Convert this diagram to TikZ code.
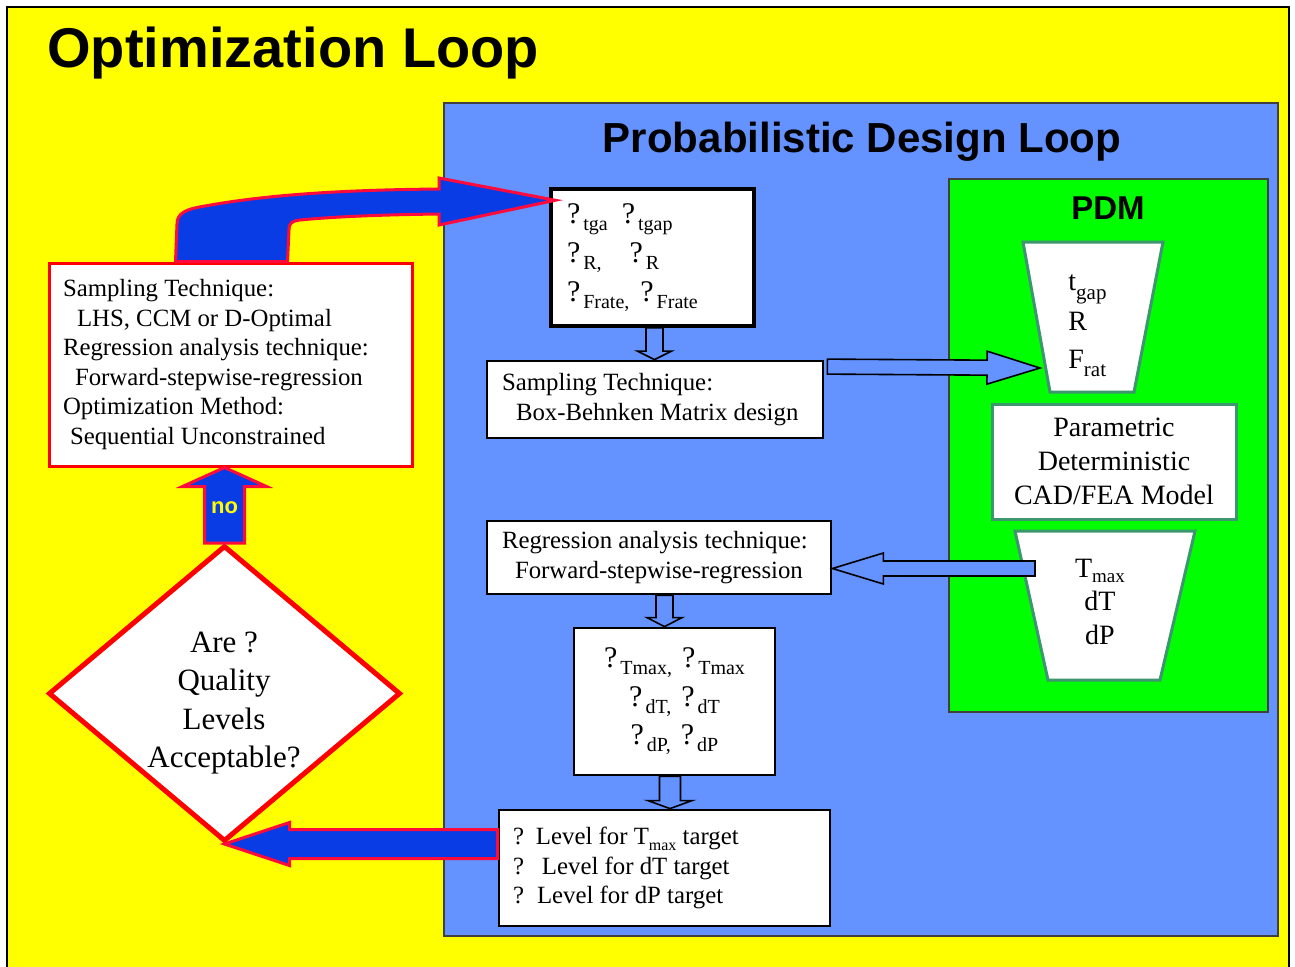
\documentclass[tikz,border=0pt]{standalone}
\usepackage{fontspec}
\setmainfont{Liberation Serif}
\newfontfamily\headfont{Liberation Sans}
\usepackage{xcolor}
\usepackage{tikz}
\usetikzlibrary{calc,shapes.geometric}

\definecolor{slideyellow}{RGB}{255,255,0}
\definecolor{loopblue}{RGB}{100,146,255}
\definecolor{pdmgreen}{RGB}{0,255,0}
\definecolor{arrowblue}{RGB}{10,60,230}
\definecolor{arrowred}{RGB}{255,10,60}
\definecolor{pdmedge}{RGB}{60,150,110}

\newcommand{\txt}[2]{\fontsize{#1}{#2}\selectfont}
% "?" with a lowered small label after it.
\newcommand{\qsub}[1]{?\hspace{1.5pt}\raisebox{-3.5pt}{\fontsize{10}{12}\selectfont #1}}
\newcommand{\low}[3]{\raisebox{-#1}{\fontsize{#2}{#2}\selectfont #3}}

% Block arrow: style, tail, tip, half shaft, half head, head length.
\newcommand{\blockarr}[6]{%
  \coordinate (ba-s) at #2;
  \coordinate (ba-t) at #3;
  \coordinate (ba-h) at ($(ba-t)!#6!(ba-s)$);
  \draw[#1] ($(ba-s)!#4!90:(ba-t)$) -- ($(ba-h)!#4!90:(ba-t)$) -- ($(ba-h)!#5!90:(ba-t)$)
    -- (ba-t) -- ($(ba-h)!#5!-90:(ba-t)$) -- ($(ba-h)!#4!-90:(ba-t)$) -- ($(ba-s)!#4!-90:(ba-t)$) -- cycle;
}

\begin{document}
\begin{tikzpicture}[
  x=0.5pt,
  y=-0.5pt,
  every node/.style={font=\txt{12.4}{14.8}},
  box/.style={draw=black, fill=white, line width=1.4pt, align=flush left, inner xsep=7pt, inner ysep=0pt},
  redbox/.style={box, draw=red, line width=1.5pt},
  modelbox/.style={draw=pdmedge, fill=white, line width=1.5pt},
  trapline/.style={font=\txt{14}{14}, inner sep=0pt},
  hollow/.style={draw=black, fill=loopblue, line width=0.8pt, line join=miter},
  bigarrow/.style={draw=arrowred, fill=arrowblue, line width=1.5pt, line join=miter},
]
\useasboundingbox (0,0) rectangle (1295,966);

% Background and frames.
\fill[white] (0,0) rectangle (1295,966);
\draw[fill=slideyellow, line width=1pt] (7,7) rectangle (1289,990);
\draw[fill=loopblue, draw=black!75, line width=0.8pt] (444,103) rectangle (1278,936);
\draw[fill=pdmgreen, draw=black!75, line width=0.8pt] (949,179) rectangle (1268,712);

% Titles.
\node[font=\headfont\bfseries\fontsize{28}{30}\selectfont, anchor=base west, inner sep=0pt] (title) at (47,67) {Optimization Loop};
\node[font=\headfont\bfseries\fontsize{21}{24}\selectfont, anchor=base, inner sep=0pt] (pdltitle) at (862,152) {Probabilistic Design Loop};
\node[font=\headfont\bfseries\fontsize{16.5}{18}\selectfont, anchor=base, inner sep=0pt] (pdmtitle) at (1108,219) {PDM};

% Optimization side.
\node[redbox, text width=167.5pt, minimum height=101.5pt] (samp) at (230.5,364.5) {Sampling Technique:\\
\hspace*{7pt}LHS, CCM or D-Optimal\\
Regression analysis technique:\\
\hspace*{6pt}Forward-stepwise-regression\\
Optimization Method:\\
\hspace*{3.5pt}Sequential Unconstrained};
\node[diamond, draw=red, line width=2.5pt, fill=white, minimum width=176pt, minimum height=148pt, inner sep=0pt] (accept) at (224.5,693.5) {};
\node[align=center, font=\txt{15.5}{19.25}, inner sep=0pt] (acceptlab) at (224,703) {Are ?\\Quality\\Levels\\Acceptable?};

% Probabilistic design boxes.
\node[box, line width=1.75pt, inner xsep=8pt, text width=85.5pt, minimum height=68.5pt, font=\txt{15}{19.5}] (inputs) at (652.5,257.5) {\qsub{tga}\hspace{7pt}\qsub{tgap}\\
\qsub{R,}\hspace{14pt}\qsub{R}\\
\qsub{Frate,}\hspace{5.5pt}\qsub{Frate}};
\node[box, inner xsep=7.5pt, text width=153pt, minimum height=38.5pt, font=\txt{12.4}{15}] (bbox) at (655,399.5) {Sampling Technique:\\\hspace*{7pt}Box-Behnken Matrix design};
\node[box, inner xsep=7.5pt, text width=157pt, minimum height=36.5pt, font=\txt{12.4}{15}] (regress) at (659,557.5) {Regression analysis technique:\\\hspace*{6.5pt}Forward-stepwise-regression};
\node[box, align=center, minimum width=100.5pt, minimum height=73.5pt, font=\txt{15}{19.25}] (sigmas) at (674.5,701.5) {\qsub{Tmax,}\hspace{5pt}\qsub{Tmax}\\
\qsub{dT,}\hspace{5pt}\qsub{dT}\\
\qsub{dP,}\hspace{5pt}\qsub{dP}};
\node[box, text width=151.5pt, minimum height=58pt, font=\txt{12.4}{14.75}] (levels) at (664.5,868) {?\hspace{6pt}Level for T\low{3pt}{8pt}{max} target\\
?\hspace{9pt}Level for dT target\\
?\hspace{6.5pt}Level for dP target};

% PDM model.
\draw[modelbox] (1023,242) -- (1163,242) -- (1134,392) -- (1050,392) -- cycle;
\node[trapline, anchor=base west] (tgap) at (1068,290) {t\low{4.5pt}{10.5pt}{gap}};
\node[trapline, anchor=base west] (rin) at (1068,330) {R};
\node[trapline, anchor=base west] (frat) at (1068,368) {F\low{4pt}{10.5pt}{rat}};
\node[modelbox, align=center, minimum width=122pt, minimum height=57.5pt, inner sep=0pt, font=\txt{14}{17}] (model) at (1114,461.5) {Parametric\\Deterministic\\CAD/FEA Model};
\draw[modelbox] (1015,531) -- (1195,531) -- (1160,680) -- (1048,680) -- cycle;
\node[trapline, anchor=base] (tmax) at (1100,577) {T\low{2.5pt}{9.5pt}{max}};
\node[trapline, anchor=base] (dtout) at (1100,610) {dT};
\node[trapline, anchor=base] (dpout) at (1100,644) {dP};
\coordinate (pinTip) at (1040,368);
\coordinate (outTail) at (1035,568.5);

% Hollow arrows inside the design loop.
\coordinate (bcTop) at ($(inputs.south)+(2,0)$);
\blockarr{hollow}{(bcTop)}{(bcTop |- bbox.north)}{4.25pt}{8.5pt}{4.25pt}
\coordinate (deTop) at ($(regress.south)+(5.5,0)$);
\blockarr{hollow}{(deTop)}{(deTop |- sigmas.north)}{4.25pt}{8.75pt}{4.5pt}
\coordinate (efTop) at ($(sigmas.south)+(-4.5,0)$);
\blockarr{hollow}{(efTop)}{(efTop |- levels.north)}{5.25pt}{11pt}{4pt}
\coordinate (toPdm) at ($(bbox.north east)+(3,7)$);
\blockarr{hollow}{(toPdm)}{(pinTip)}{3.75pt}{8.25pt}{26.5pt}
\blockarr{hollow}{(outTail)}{(regress.east |- outTail)}{3.75pt}{7.75pt}{25.5pt}

% Big loop arrows.
\blockarr{bigarrow}{(levels.west |- accept.south)}{(accept.south)}{7.25pt}{10.75pt}{32.5pt}
\blockarr{bigarrow}{(accept.north)}{(accept.north |- samp.south)}{10pt}{21pt}{9.5pt}
\node[font=\headfont\bfseries\fontsize{11}{12}\selectfont, text=slideyellow, inner sep=0pt] (nolab) at ($(accept.north)+(0,-35)$) {no};

\coordinate (loopL) at ($(samp.north west)+(128,0)$);
\coordinate (loopR) at ($(samp.north west)+(240,0)$);
\coordinate (loopTip) at ($(inputs.north west)+(6,13)$);
\draw[bigarrow] (loopL) -- (177,224) .. controls (177,213) and (186,209) .. (205,206)
  .. controls (260,196) and (330,190) .. (439,189) -- (439,178) -- (loopTip) -- (439,225) -- (439,214)
  .. controls (360,215) and (320,218) .. (300,220) .. controls (292,221) and (289,223) .. (289,230) -- (loopR) -- cycle;

\end{tikzpicture}
\end{document}
